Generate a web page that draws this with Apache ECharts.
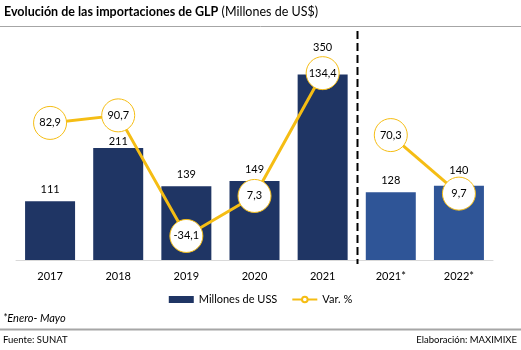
<!DOCTYPE html>
<html>
<head>
<meta charset="utf-8">
<script src="https://cdn.jsdelivr.net/npm/echarts@6/dist/echarts.min.js"></script>
<style>
  html, body { margin: 0; padding: 0; background: #fff; }
  #chart { width: 521px; height: 350px; }
</style>
</head>
<body>
<div id="chart"></div>
<script>
// datos
var years = ['2017', '2018', '2019', '2020', '2021', '2021*', '2022*']
var millones = [111, 211, 139, 149, 350, 128, 140]
var variacion = [82.9, 90.7, -34.1, 7.3, 134.4, 70.3, 9.7]

var font = 'Lato'
var navy = '#1f3564'
var blue = '#2f5597'
var yellow = '#f5bd14'

// etiquetas de barras: distancia especial para algunas
var labelDist = { 1: 1, 4: 21, 6: 10 }

var barData = millones.map(function(v, i) {
    var item = { value: v, itemStyle: { color: i < 5 ? navy : blue } }
    if (labelDist[i] !== undefined) item.label = { distance: labelDist[i] }
    return item
})

// la línea se corta entre 2021 y 2021*
var varAnual = variacion.map(function(v, i) { return i < 5 ? v : '-' })
var varParcial = variacion.map(function(v, i) { return i >= 5 ? v : '-' })

function lineSeries(data) {
    return {
        name: 'Var. %',
        type: 'line',
        yAxisIndex: 1,
        z: 5,
        symbol: 'circle',
        symbolSize: 33,
        lineStyle: { color: yellow, width: 3 },
        itemStyle: { color: '#fff', borderColor: yellow, borderWidth: 1 },
        label: {
            show: true,
            position: 'inside',
            color: '#000',
            fontSize: 11,
            formatter: function(p) { return String(p.value).replace('.', ',') }
        },
        data: data
    }
}

var myChart = echarts.init(document.getElementById('chart'))

var option = {
    animation: false,
    textStyle: { fontFamily: font },
    grid: { left: 16, right: 28, top: 32, bottom: 90 },
    legend: {
        bottom: 40,
        left: 'center',
        itemGap: 14,
        itemWidth: 25,
        itemHeight: 7,
        textStyle: { fontSize: 11, color: '#000', fontFamily: font },
        data: [
            { name: 'Millones de USS', icon: 'rect', itemStyle: { color: navy } },
            { name: 'Var. %' }
        ]
    },
    xAxis: {
        type: 'category',
        data: years,
        axisLine: { lineStyle: { color: '#d9d9d9', width: 1 } },
        axisTick: { show: false },
        axisLabel: { color: '#000', fontSize: 11, margin: 11 }
    },
    yAxis: [
        { type: 'value', min: 0, max: 430, show: false },
        { type: 'value', min: -59, max: 177, show: false }
    ],
    series: [
        {
            name: 'Millones de USS',
            type: 'bar',
            barWidth: 50,
            itemStyle: { color: navy },
            label: { show: true, position: 'top', distance: 6, color: '#000', fontSize: 11 },
            data: barData
        },
        lineSeries(varAnual),
        lineSeries(varParcial)
    ]
}
myChart.setOption(option)

// línea punteada entre 2021 y 2021*
var xa = myChart.convertToPixel({ xAxisIndex: 0 }, years[4])
var xb = myChart.convertToPixel({ xAxisIndex: 0 }, years[5])
var xm = Math.round((xa + xb) / 2) + 0.5

myChart.setOption({
    graphic: [
        {
            type: 'text', left: 4, top: 5,
            style: {
                rich: {
                    b: { fontFamily: font, fontWeight: 'bold', fontSize: 12.5, fill: '#000' },
                    n: { fontFamily: font, fontSize: 12.5, fill: '#000' }
                },
                text: '{b|Evolución de las importaciones de GLP} {n|(Millones de US$)}'
            }
        },
        { type: 'line', shape: { x1: 0, y1: 26.5, x2: 521, y2: 26.5 }, style: { stroke: '#a6a6a6', lineWidth: 1 } },
        { type: 'line', shape: { x1: xm, y1: 31, x2: xm, y2: 264 }, z: 10, style: { stroke: '#000', lineWidth: 2, lineDash: [8, 4] } },
        {
            type: 'text', left: 3, top: 313,
            style: { text: '*Enero- Mayo', fontFamily: font, fontStyle: 'italic', fontSize: 11, fill: '#000' }
        },
        { type: 'line', shape: { x1: 0, y1: 329.5, x2: 521, y2: 329.5 }, style: { stroke: '#a6a6a6', lineWidth: 2 } },
        {
            type: 'text', left: 3, top: 335,
            style: { text: 'Fuente: SUNAT', fontFamily: font, fontSize: 9.5, fill: '#000' }
        },
        {
            type: 'text', right: 4, top: 335,
            style: { text: 'Elaboración: MAXIMIXE', fontFamily: font, fontSize: 9.5, fill: '#000' }
        }
    ]
})
</script>
</body>
</html>
